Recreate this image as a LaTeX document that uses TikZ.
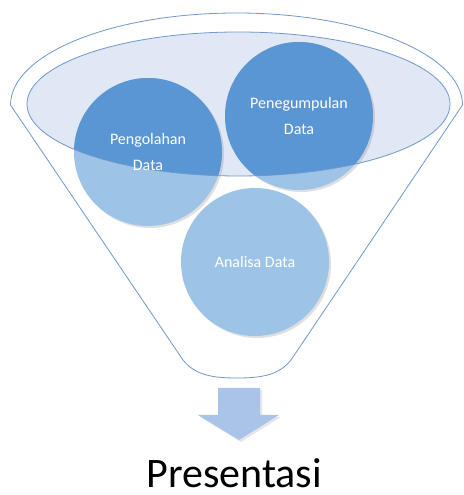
\documentclass[tikz,border=0pt]{standalone}
\usepackage{fontspec}
\setmainfont{Carlito}
\usetikzlibrary{shadows}
\definecolor{garis}{HTML}{7097CC}
\definecolor{isi}{HTML}{DFE8F4}
\definecolor{tua}{HTML}{5A96D3}
\definecolor{muda}{HTML}{9DC3E6}
\definecolor{panah}{HTML}{A9C4E8}

\begin{document}
\begin{tikzpicture}[x=1pt,y=1pt,
    bulat/.style={circle,minimum size=148pt,inner sep=0pt,fill=muda,
        drop shadow={shadow xshift=2pt,shadow yshift=-2pt,opacity=.25}},
    teks/.style={text=white,align=center,font=\fontsize{16}{26}\selectfont}]
    \useasboundingbox (0,0) rectangle (463,495);
    % corong
    \draw[garis,fill=white,line width=.8pt] (183,135) -- (10.5,390)
        arc[start angle=180,end angle=0,x radius=226,y radius=92]
        -- (291,135) .. controls (279,120) and (262,117) .. (237,117)
        .. controls (212,117) and (195,120) .. (183,135) -- cycle;
    \fill[isi] (238.5,391) ellipse (211.5 and 72);
    % lingkaran
    \node[bulat] (olah) at (148,343) {};
    \node[bulat] (kumpul) at (299,379) {};
    \node[bulat] (analisa) at (255,233) {};
    \begin{scope}
        \clip (238.5,391) ellipse (211.5 and 72);
        \foreach \n in {olah,kumpul}
            \fill[tua] (\n.center) circle (74);
    \end{scope}
    \draw[garis,line width=.8pt] (238.5,391) ellipse (211.5 and 72);
    \node[teks] (tolah) at (olah) {Pengolahan\\Data};
    \node[teks] (tkumpul) at (kumpul) {Penegumpulan\\Data};
    \node[teks] (tanalisa) at (analisa) {Analisa Data};
    % panah
    \fill[panah,drop shadow={shadow xshift=2pt,shadow yshift=-2pt,opacity=.2}]
        (218,107) -- (260,107) -- (260,80) -- (279,80) -- (239,55)
        -- (198,80) -- (218,80) -- cycle;
    \node[anchor=base,inner sep=0pt,font=\fontsize{42}{50}\selectfont] (hasil) at (234,8) {Presentasi};
\end{tikzpicture}
\end{document}
